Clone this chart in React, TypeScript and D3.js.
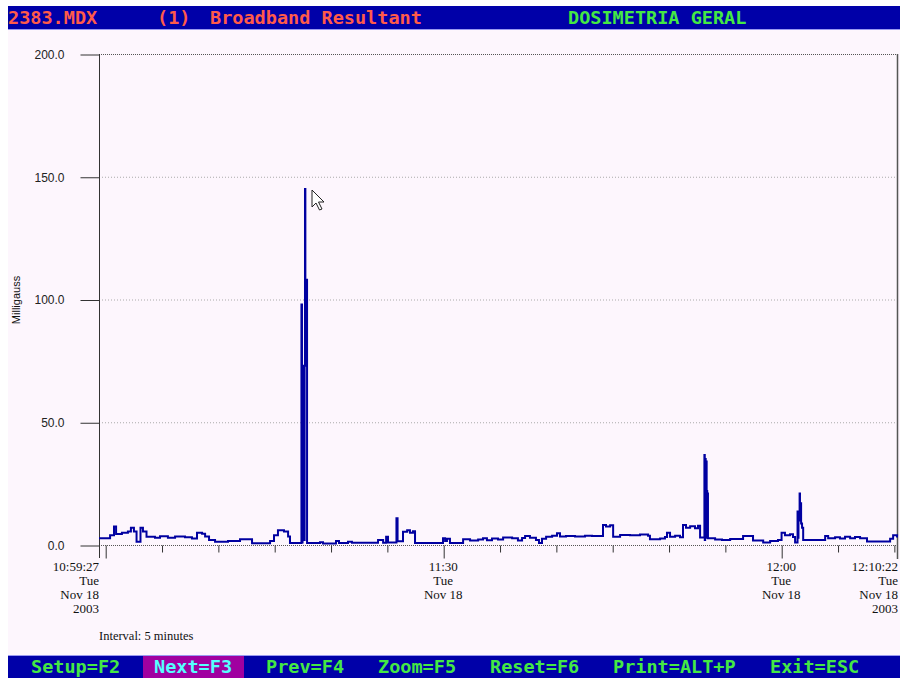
import React, { useRef, useEffect } from "react";
import * as d3 from "d3";

// seconds elapsed since 10:59:27 and broadband resultant readings (mG)
const elapsedSec = [
  0, 59, 80, 91, 122, 154, 170, 186, 200, 221, 234, 253, 298, 325, 367, 405, 458, 495, 522, 549,
  565, 586, 618, 687, 751, 815, 911, 932, 953, 985, 1007, 1017, 1078, 1081, 1084, 1087, 1090, 1092,
  1095, 1097, 1099, 1102, 1104, 1106, 1108, 1177, 1193, 1262, 1278, 1326, 1347, 1486, 1513, 1529,
  1539, 1584, 1590, 1619, 1641, 1656, 1672, 1683, 1832, 1843, 1853, 1869, 1939, 1976, 2019, 2045,
  2066, 2093, 2125, 2152, 2200, 2231, 2253, 2269, 2295, 2327, 2343, 2359, 2381, 2413, 2439, 2455,
  2487, 2535, 2588, 2626, 2684, 2700, 2722, 2738, 2775, 2828, 2881, 2924, 2934, 2988, 3014, 3025,
  3041, 3068, 3094, 3110, 3126, 3148, 3174, 3190, 3201, 3224, 3226, 3228, 3231, 3233, 3236, 3239,
  3241, 3243, 3281, 3318, 3361, 3430, 3483, 3537, 3574, 3616, 3635, 3653, 3680, 3696, 3707, 3720,
  3723, 3725, 3731, 3733, 3736, 3739, 3744, 3750, 3867, 3883, 3920, 3946, 3973, 4000, 4026, 4053,
  4090, 4213, 4229, 4250, 4255,
];
const milligauss = [
  2.7, 4.0, 7.5, 4.5, 5.0, 5.5, 7.0, 5.5, 1.3, 7.0, 5.5, 3.4, 3.0, 3.6, 3.0, 3.5, 3.2, 2.6, 5.0, 4.6,
  3.5, 2.0, 1.3, 1.6, 2.3, 0.7, 1.6, 4.0, 6.0, 5.5, 3.5, 0.8, 98, 1.0, 73, 2, 73, 2,
  73, 145, 73, 108, 73, 108, 0.8, 1.1, 0.6, 1.6, 0.8, 1.3, 0.9, 2.0, 0.9, 3.4,
  1.0, 10.9, 1.5, 5.4, 6.0, 5.0, 5.6, 0.8, 2.8, 1.6, 2.5, 0.8, 2.3, 1.8, 2.2, 2.8,
  1.9, 2.6, 2.2, 3.1, 2.8, 1.8, 2.9, 3.7, 3.0, 2.0, 0.8, 2.5, 3.4, 3.8, 4.8, 3.5,
  3.7, 3.5, 3.8, 3.7, 8.1, 7.5, 8.0, 3.4, 4.1, 4.0, 4.3, 3.8, 2.3, 2.6, 3.3, 5.0,
  3.4, 3.8, 3.2, 8.1, 7.0, 7.6, 6.8, 7.8, 3.1, 36.7, 2, 35, 3, 34, 22, 3,
  21, 2.7, 2.2, 2.0, 2.4, 3.7, 1.8, 1.0, 1.6, 2.0, 5.0, 4.0, 4.4, 3.3, 1.0, 13.6,
  3, 13.5, 21, 10, 17, 8.8, 7, 2.0, 3.7, 2.8, 3.2, 2.6, 3.4, 2.8, 3.3, 2.8,
  1.4, 2.5, 4.0, 3.5, 3.5,
];

const yTicks = [0, 50, 100, 150, 200];
const startTime = new Date(2003, 10, 18, 10, 59, 27);
const endTime = new Date(2003, 10, 18, 12, 10, 22);
const xLabels = [
  { t: new Date(2003, 10, 18, 10, 59, 27), lines: ["10:59:27", "Tue", "Nov 18", "2003"], anchor: "end" },
  { t: new Date(2003, 10, 18, 11, 30, 0), lines: ["11:30", "Tue", "Nov 18"], anchor: "middle" },
  { t: new Date(2003, 10, 18, 12, 0, 0), lines: ["12:00", "Tue", "Nov 18"], anchor: "middle" },
  { t: new Date(2003, 10, 18, 12, 10, 22), lines: ["12:10:22", "Tue", "Nov 18", "2003"], anchor: "end" },
];

const headerItems = [
  { text: "2383.MDX", x: 8, color: "#ff5a4a" },
  { text: "(1)", x: 157, color: "#ff5a4a" },
  { text: "Broadband Resultant", x: 210, color: "#ff5a4a" },
  { text: "DOSIMETRIA GERAL", x: 568, color: "#44e844" },
];
const footerItems = ["Setup=F2", "Next=F3", "Prev=F4", "Zoom=F5", "Reset=F6", "Print=ALT+P", "Exit=ESC"];
const footerX = [31, 154, 266, 378, 490, 613, 770];

export default function App() {
  const ref = useRef<SVGSVGElement>(null);

  const width = 900;
  const height = 679;
  const left = 99;
  const right = 898;
  const top = 54;
  const bottom = 545;

  const x = d3.scaleTime().domain([startTime, endTime]).range([left, right]);
  const y = d3.scaleLinear().domain([0, 200]).range([bottom, top]);

  useEffect(() => {
    const vis = d3.select(ref.current);
    vis.selectAll(".chart").remove();
    const g = vis.append("g").attr("class", "chart");

    // grid
    g.selectAll("line.grid")
      .data(yTicks)
      .join("line")
      .attr("x1", left)
      .attr("x2", right)
      .attr("y1", (d) => y(d) + 0.5)
      .attr("y2", (d) => y(d) + 0.5)
      .attr("stroke", (d) => (d === 0 || d === 200 ? "#555" : "#aaa"))
      .attr("stroke-dasharray", (d) => (d === 0 || d === 200 ? "1,1" : "1,2"));

    // y axis
    const ya = g
      .append("g")
      .attr("transform", `translate(${left + 0.5}, 0.5)`)
      .call(
        d3
          .axisLeft(y)
          .tickValues(yTicks)
          .tickSize(19)
          .tickPadding(16)
          .tickFormat(d3.format(".1f"))
      );
    ya.select(".domain").remove();
    ya.selectAll("line").attr("stroke", "#333");
    ya.selectAll("text")
      .attr("font-family", "Liberation Sans, Arial, sans-serif")
      .attr("font-size", 12)
      .attr("fill", "#222");

    // frame verticals
    g.append("line")
      .attr("x1", left + 0.5)
      .attr("x2", left + 0.5)
      .attr("y1", top)
      .attr("y2", bottom + 13)
      .attr("stroke", "#333");
    g.append("line")
      .attr("x1", right - 0.5)
      .attr("x2", right - 0.5)
      .attr("y1", top)
      .attr("y2", bottom + 14)
      .attr("stroke", "#555")
      .attr("stroke-width", 1.5);

    // x ticks
    const xa = g
      .append("g")
      .attr("transform", `translate(0.5, ${bottom + 0.5})`)
      .call(
        d3
          .axisBottom(x)
          .ticks(d3.timeMinute.every(5))
          .tickSize(7)
          .tickFormat(() => "")
      );
    xa.select(".domain").remove();
    xa.selectAll("line")
      .attr("stroke", "#333")
      .attr("y2", (d: any) => (d.getMinutes() % 30 === 0 ? 13 : 7));

    // x labels
    const lab = g
      .selectAll("text.xl")
      .data(xLabels)
      .join("text")
      .attr("class", "xl")
      .attr("x", (d) => x(d.t))
      .attr("y", bottom + 26)
      .attr("text-anchor", (d) => d.anchor)
      .attr("font-family", "Liberation Serif, Times New Roman, serif")
      .attr("font-size", 13)
      .attr("fill", "#111");
    lab
      .selectAll("tspan")
      .data((d) => d.lines)
      .join("tspan")
      .attr("x", function () {
        return d3.select(this.parentNode as any).attr("x");
      })
      .attr("dy", (_, i) => (i === 0 ? 0 : 14))
      .text((d) => d);

    // series
    const pts = elapsedSec.map((s, i) => [new Date(startTime.getTime() + s * 1000), milligauss[i]] as [Date, number]);
    const line = d3
      .line<[Date, number]>()
      .x((d) => x(d[0]))
      .y((d) => y(d[1]))
      .curve(d3.curveStepAfter);
    g.append("path")
      .attr("d", line(pts))
      .attr("fill", "none")
      .attr("stroke", "#0000a0")
      .attr("stroke-width", 2);
  }, []);

  return (
    <svg
      ref={ref}
      width={width}
      height={height}
      style={{ position: "absolute", left: 0, top: 0, background: "#fff" }}
    >
      <rect x={8} y={29} width={892} height={627} fill="#fdf6fd" />
      <rect x={8} y={6} width={892} height={23} fill="#0000a8" />
      <line x1={8} x2={900} y1={29.5} y2={29.5} stroke="#9a9af0" />
      {headerItems.map((h) => (
        <text
          key={h.text}
          x={h.x}
          y={24}
          fill={h.color}
          fontFamily="DejaVu Sans Mono, monospace"
          fontSize={18}
          fontWeight="bold"
          textLength={h.text.length * 11.15}
          lengthAdjust="spacingAndGlyphs"
        >
          {h.text}
        </text>
      ))}
      <rect x={8} y={655} width={892} height={23} fill="#0000a8" />
      <line x1={8} x2={900} y1={655.5} y2={655.5} stroke="#9a9af0" />
      <rect x={143} y={656} width={101} height={22} fill="#a000a0" />
      {footerItems.map((f, i) => (
        <text
          key={f}
          x={footerX[i]}
          y={673}
          fill={i === 1 ? "#55ffff" : "#44e844"}
          fontFamily="DejaVu Sans Mono, monospace"
          fontSize={18}
          fontWeight="bold"
          textLength={f.length * 11.15}
          lengthAdjust="spacingAndGlyphs"
        >
          {f}
        </text>
      ))}
      <text
        transform="translate(20,300) rotate(-90)"
        textAnchor="middle"
        fontFamily="Liberation Sans, Arial, sans-serif"
        fontSize={11}
        fill="#111"
      >
        Milligauss
      </text>
      <text x={99} y={640} fontFamily="Liberation Serif, Times New Roman, serif" fontSize={12.5} fill="#111">
        Interval: 5 minutes
      </text>
      <path
        transform="translate(312,190)"
        d="M0,0 L0,17 L4,13 L7.5,20 L10,19 L6.5,12 L12,12 Z"
        fill="#fff"
        stroke="#222"
        strokeWidth={1}
      />
    </svg>
  );
}
